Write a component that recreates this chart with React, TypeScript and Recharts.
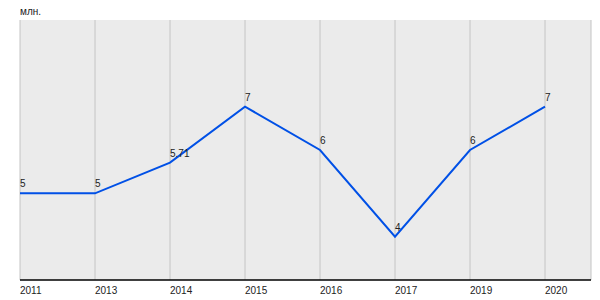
import {
  LineChart,
  Line,
  XAxis,
  YAxis,
  CartesianGrid,
  LabelList
} from "recharts"

const years = ["2011", "2013", "2014", "2015", "2016", "2017", "2019", "2020"]
const values = [5, 5, 5.71, 7, 6, 4, 6, 7]
const unitLabel = "млн."

const data = years.map((year, i) => ({ year, value: values[i] }))

const font = "'Liberation Sans', Arial, sans-serif"

function YearTick(props: any) {
  const { x, payload } = props
  // keep labels just under the axis line
  return (
    <text x={x} y={294} fontSize={10} fontFamily={font} fill="#222" textAnchor="start">
      {payload.value}
    </text>
  )
}

function PointLabel(props: any) {
  const { x, y, value } = props
  return (
    <text x={x} y={y - 6} fontSize={10} fontFamily={font} fill="#222" textAnchor="start">
      {value}
    </text>
  )
}

export default function App(){

  return(

    <div style={{ position:"absolute", left:0, top:0, width:600, height:300, background:"#fff" }}>

      <div style={{ position:"absolute", left:20, top:6, fontSize:10, fontFamily:font, color:"#222" }}>
        {unitLabel}
      </div>

      <LineChart
        width={600}
        height={300}
        data={data}
        margin={{ top:20, right:9, bottom:0, left:20 }}
      >

        <CartesianGrid
          horizontal={false}
          stroke="#c4c4c4"
          fill="#ebebeb"
        />

        <XAxis
          dataKey="year"
          height={20}
          interval={0}
          tickLine={false}
          axisLine={{ stroke:"#000", strokeWidth:1.5 }}
          padding={{ left:0, right:46 }}
          tick={<YearTick />}
        />

        <YAxis
          width={0}
          domain={[3, 9]}
          tick={false}
          tickLine={false}
          axisLine={{ stroke:"#000", strokeWidth:1.5 }}
        />

        <Line
          type="linear"
          dataKey="value"
          stroke="#0050e6"
          strokeWidth={2}
          dot={false}
          isAnimationActive={false}
        >
          <LabelList dataKey="value" content={<PointLabel />} />
        </Line>

      </LineChart>

    </div>

  )
}
